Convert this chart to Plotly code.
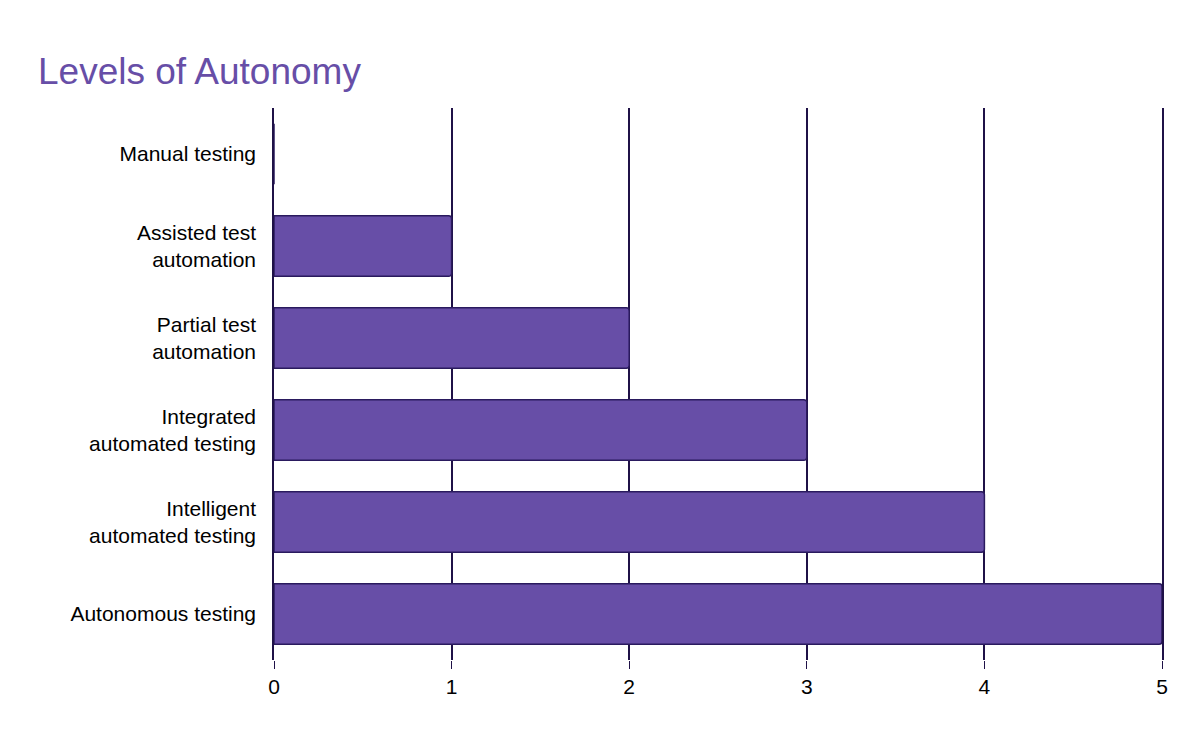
import plotly.graph_objects as go

levels = ['Manual testing', 'Assisted test<br>automation', 'Partial test<br>automation',
          'Integrated<br>automated testing', 'Intelligent<br>automated testing', 'Autonomous testing']
values = [0, 1, 2, 3, 4, 5]

fig = go.Figure()
fig.add_trace(go.Bar(
    x=values, y=levels, orientation='h',
    marker=dict(color='#674ea7', line=dict(color='#2a1a5e', width=1.5)),
    width=0.66,
))

fig.update_layout(
    title=dict(text='Levels of Autonomy', x=0.025, y=0.915, xanchor='left', yanchor='middle',
               font=dict(size=37, color='#674ea7', family='Liberation Sans, Arial')),
    width=1200, height=742,
    plot_bgcolor='white', paper_bgcolor='white',
    barcornerradius=3,
    showlegend=False,
    font=dict(family='Liberation Sans, Arial', size=21, color='black'),
    margin=dict(l=266, r=46, t=100, b=90),
)
fig.update_xaxes(range=[0, 5], dtick=1, showgrid=True, gridcolor='#1f1147', gridwidth=1.5,
                 zeroline=False, ticks='outside', ticklen=8, tickcolor='#1f1147',
                 tickfont=dict(size=21), showline=False)
fig.update_yaxes(autorange='reversed', showgrid=False, ticks='', ticklabelstandoff=12,
                 showline=True, mirror=True, linecolor='#1f1147', linewidth=1.5)

fig.write_html("out.html")
